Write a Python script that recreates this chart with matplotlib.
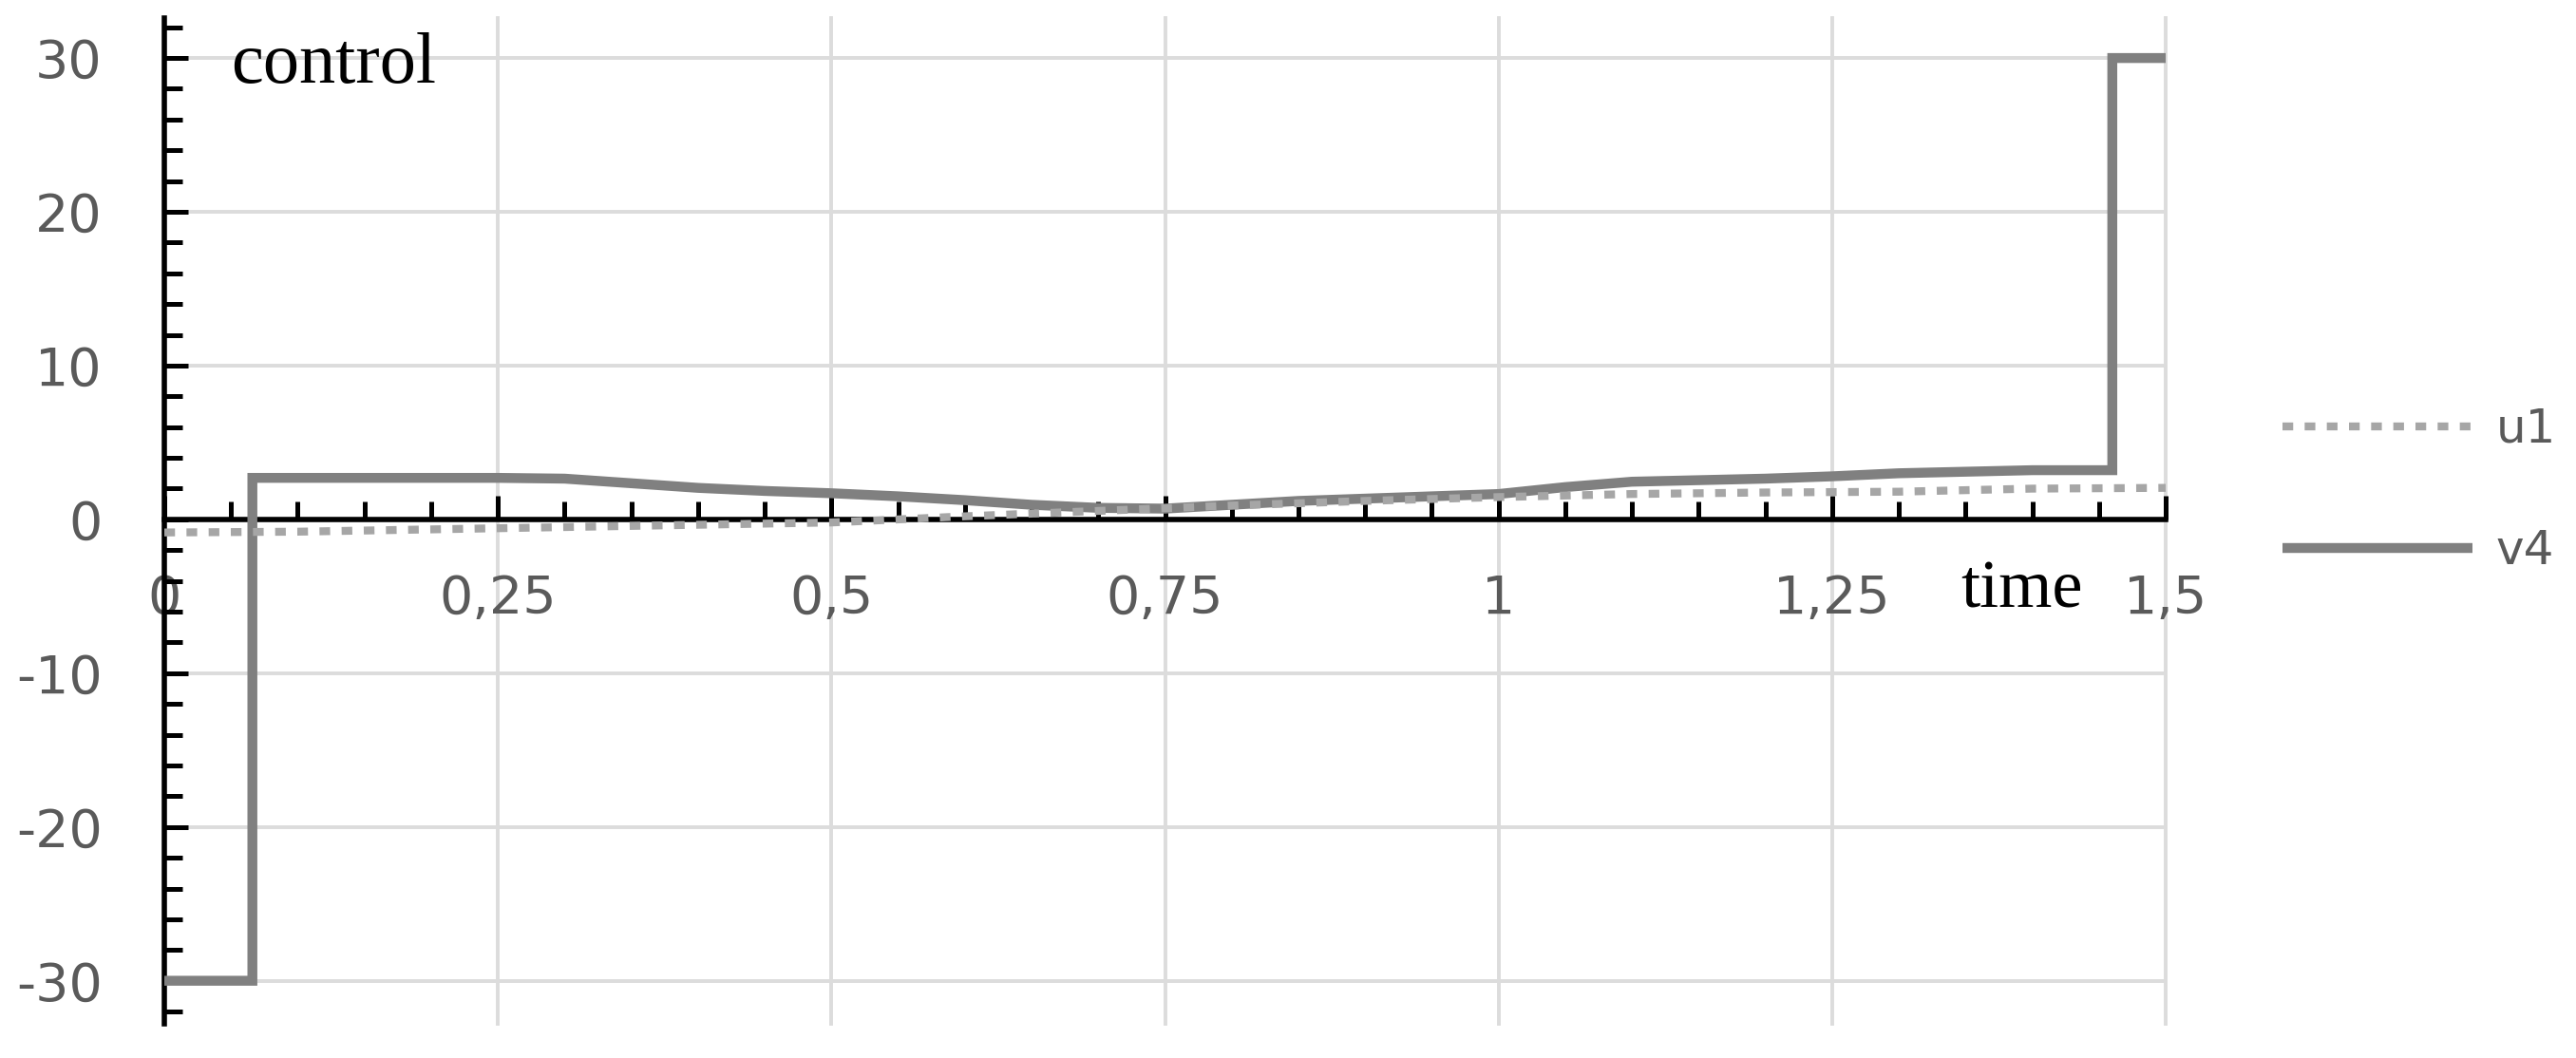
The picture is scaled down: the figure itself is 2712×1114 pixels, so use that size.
import matplotlib
matplotlib.use("Agg")
import matplotlib.pyplot as plt
from matplotlib.ticker import MultipleLocator, FixedLocator

# ---- data ----
time_v4 = [0.0, 0.066, 0.066, 0.10, 0.15, 0.20, 0.25, 0.30, 0.35, 0.40, 0.45, 0.50,
           0.55, 0.60, 0.65, 0.70, 0.75, 0.80, 0.85, 0.90, 0.95, 1.00, 1.05, 1.10,
           1.15, 1.20, 1.25, 1.30, 1.35, 1.40, 1.46, 1.46, 1.50]
v4 = [-30.0, -30.0, 2.7, 2.7, 2.7, 2.7, 2.7, 2.65, 2.35, 2.05, 1.85, 1.7,
      1.5, 1.25, 0.95, 0.75, 0.7, 0.95, 1.2, 1.35, 1.5, 1.65, 2.1, 2.45,
      2.55, 2.65, 2.8, 3.0, 3.1, 3.2, 3.2, 30.0, 30.0]

time_u1 = [0.0, 0.1, 0.2, 0.3, 0.4, 0.5, 0.6, 0.7, 0.8, 0.9, 1.0, 1.1, 1.2, 1.3, 1.4, 1.5]
u1 = [-0.85, -0.8, -0.65, -0.5, -0.35, -0.2, 0.2, 0.55, 0.9, 1.2, 1.45, 1.65, 1.75, 1.8, 2.0, 2.05]

xticks = [0, 0.25, 0.5, 0.75, 1.0, 1.25, 1.5]
xtick_labels = ["0", "0,25", "0,5", "0,75", "1", "1,25", "1,5"]
yticks = [-30, -20, -10, 0, 10, 20, 30]
ytick_labels = ["-30", "-20", "-10", "0", "10", "20", "30"]

W, H = 2712, 1114
fig = plt.figure(figsize=(W / 100, H / 100), dpi=100)
ax = fig.add_axes([173 / W, 1 - 1078 / H, (2280 - 173) / W, (1078 - 19) / H])

ax.plot(time_u1, u1, color="#a6a6a6", lw=6.0, linestyle=(0, (1.35, 1.45)),
        dash_capstyle="butt", label="u1", zorder=4)
ax.plot(time_v4, v4, color="#808080", lw=7.5, solid_joinstyle="miter",
        solid_capstyle="butt", label="v4", zorder=3)

ax.set_xlim(0, 1.5)
ax.set_ylim(-32.8, 32.6)

for s in ["top", "right"]:
    ax.spines[s].set_visible(False)
ax.spines["bottom"].set_position(("data", 0))
ax.spines["left"].set_position(("data", 0))
for s in ["bottom", "left"]:
    ax.spines[s].set_linewidth(4)
    ax.spines[s].set_color("black")

ax.xaxis.set_major_locator(FixedLocator(xticks))
ax.set_xticklabels(xtick_labels)
ax.xaxis.set_minor_locator(MultipleLocator(0.05))
ax.yaxis.set_major_locator(FixedLocator(yticks))
ax.set_yticklabels(ytick_labels)
ax.yaxis.set_minor_locator(MultipleLocator(2))

ax.tick_params(axis="x", which="major", direction="in", length=18, width=3.6,
               pad=41, labelsize=40, labelcolor="#5a5a5a", color="black")
ax.tick_params(axis="x", which="minor", direction="in", length=13.7, width=3.6, color="black")
ax.tick_params(axis="y", which="major", direction="in", length=18, width=3.6,
               pad=47, labelsize=40, labelcolor="#5a5a5a", color="black")
ax.tick_params(axis="y", which="minor", direction="in", length=13.7, width=3.6, color="black")
for lab in ax.get_xticklabels() + ax.get_yticklabels():
    lab.set_family("DejaVu Sans")

ax.grid(True, which="major", color="#dcdcdc", lw=2.8)
for gl in ax.get_xgridlines():
    gl.set_clip_on(False)

fig.text(243 / W, 1 - 87 / H, "control", family="Liberation Serif", fontsize=55,
         color="black", va="baseline", ha="left")
fig.text(2064 / W, 1 - 640 / H, "time", family="Liberation Serif", fontsize=52,
         color="black", va="baseline", ha="left")

leg = ax.legend(loc="center left", bbox_to_anchor=(2403 / W, 1 - 516 / H),
                bbox_transform=fig.transFigure, frameon=False, fontsize=36,
                handlelength=4.0, handletextpad=0.5, labelspacing=1.6,
                borderpad=0, borderaxespad=0)
for t in leg.get_texts():
    t.set_color("#5a5a5a")

fig.savefig("out.png", dpi=100)
